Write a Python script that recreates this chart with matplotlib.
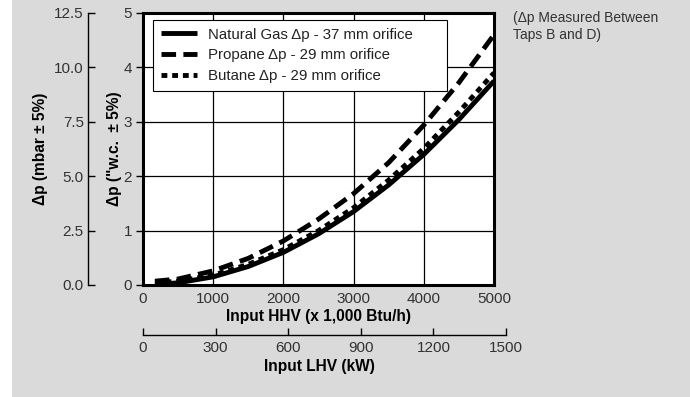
import numpy as np
import matplotlib.pyplot as plt
from matplotlib.patches import Rectangle

plt.rcParams['font.family'] = ['Liberation Sans', 'DejaVu Sans']

# input HHV (x 1,000 Btu/h) and pressure drop ("w.c.)
hhv = [170, 500, 1000, 1500, 2000, 2500, 3000, 3500, 4000, 4500, 5000]
dp_natural_gas = [0.01, 0.04, 0.15, 0.34, 0.60, 0.94, 1.35, 1.84, 2.40, 3.04, 3.75]
dp_propane = [0.07, 0.11, 0.26, 0.49, 0.81, 1.21, 1.68, 2.25, 2.94, 3.72, 4.60]
dp_butane = [0.04, 0.07, 0.18, 0.38, 0.65, 1.00, 1.42, 1.93, 2.51, 3.18, 3.90]

hhv_ticks = [0, 1000, 2000, 3000, 4000, 5000]
wc_ticks = [0, 1, 2, 3, 4, 5]
mbar_ticks = [0.0, 2.5, 5.0, 7.5, 10.0, 12.5]
lhv_ticks = [0, 300, 600, 900, 1200, 1500]

W, H = 690, 397
bg = '#dadada'
tick_col = '#333333'
fs_tick = 11
fs_label = 11.2

fig = plt.figure(figsize=(W / 100, H / 100), dpi=100, facecolor='white')
# grey panel, leaving a thin white strip on the left
fig.patches.append(Rectangle((12 / W, 0), 1 - 12 / W, 1, transform=fig.transFigure,
                             facecolor=bg, edgecolor='none', zorder=-10))

def box(x0, y0, x1, y1):
    # pixel box (top-left origin) -> figure fraction rect
    return [x0 / W, 1 - y1 / H, (x1 - x0) / W, (y1 - y0) / H]

def px(x, y):
    return x / W, 1 - y / H

# main plot
ax = fig.add_axes(box(143, 13, 494, 285))
ax.set_facecolor('white')
ax.plot(hhv, dp_natural_gas, color='black', lw=3.5, solid_capstyle='butt',
        label='Natural Gas Δp - 37 mm orifice')
ax.plot(hhv, dp_propane, color='black', lw=3.5, dashes=(3.0, 1.5),
        label='Propane Δp - 29 mm orifice')
ax.plot(hhv, dp_butane, color='black', lw=3.5, dashes=(1.2, 1.0),
        label='Butane Δp - 29 mm orifice')
ax.set_xlim(0, 5000)
ax.set_ylim(0, 5)
ax.set_xticks(hhv_ticks)
ax.set_yticks(wc_ticks)
ax.grid(True, color='black', lw=0.9)
ax.set_axisbelow(True)
for s in ax.spines.values():
    s.set_linewidth(2.2)
ax.tick_params(axis='x', length=0, pad=5, labelsize=fs_tick, labelcolor=tick_col)
ax.tick_params(axis='y', length=5, width=1, pad=3, labelsize=fs_tick, labelcolor=tick_col)

# legend stretched across a fixed box
lx0, ly0 = (153 - 143) / 351, (285 - 88) / 272
lw_, lh_ = (447 - 153) / 351, (88 - 20) / 272
leg = ax.legend(loc='upper left', bbox_to_anchor=(lx0, ly0, lw_, lh_), mode='expand',
                fontsize=10.8, frameon=True, fancybox=False, handlelength=2.4,
                borderpad=0.5, labelspacing=0.45, handletextpad=0.75,
                borderaxespad=0)
leg.get_frame().set_edgecolor('black')
leg.get_frame().set_linewidth(0.8)
leg.get_frame().set_alpha(1)
for t in leg.get_texts():
    t.set_color('#222222')

# outer mbar axis
ax2 = fig.add_axes(box(88, 13, 89, 285))
ax2.set_facecolor('none')
for k in ['top', 'right', 'bottom']:
    ax2.spines[k].set_visible(False)
ax2.spines['left'].set_linewidth(1)
ax2.set_xticks([])
ax2.set_ylim(0, 12.5)
ax2.set_yticks(mbar_ticks)
ax2.set_yticklabels([f'{v:.1f}' for v in mbar_ticks])
ax2.tick_params(axis='y', direction='in', length=5, width=1, pad=3,
                labelsize=fs_tick, labelcolor=tick_col)

# lower LHV axis
ax3 = fig.add_axes(box(143, 300, 506, 335))
ax3.set_facecolor('none')
for k in ['top', 'right', 'left']:
    ax3.spines[k].set_visible(False)
ax3.spines['bottom'].set_linewidth(1)
ax3.set_yticks([])
ax3.set_xlim(0, 1500)
ax3.set_xticks(lhv_ticks)
ax3.tick_params(axis='x', direction='in', length=5, width=1, pad=4,
                labelsize=fs_tick, labelcolor=tick_col)

# axis titles
fig.text(*px(41, 149), 'Δp (mbar ± 5%)', rotation=90, ha='center', va='center',
         fontsize=fs_label, fontweight='bold')
fig.text(*px(115, 149), 'Δp ("w.c.  ± 5%)', rotation=90, ha='center', va='center',
         fontsize=fs_label, fontweight='bold')
fig.text(*px(319, 316), 'Input HHV (x 1,000 Btu/h)', ha='center', va='center',
         fontsize=fs_label, fontweight='bold')
fig.text(*px(319, 366), 'Input LHV (kW)', ha='center', va='center',
         fontsize=fs_label, fontweight='bold')

fig.text(*px(513, 11), '(Δp Measured Between\nTaps B and D)',
         fontsize=10, color=tick_col, va='top', ha='left', linespacing=1.25)

fig.savefig('out.png', dpi=100, facecolor='white')
